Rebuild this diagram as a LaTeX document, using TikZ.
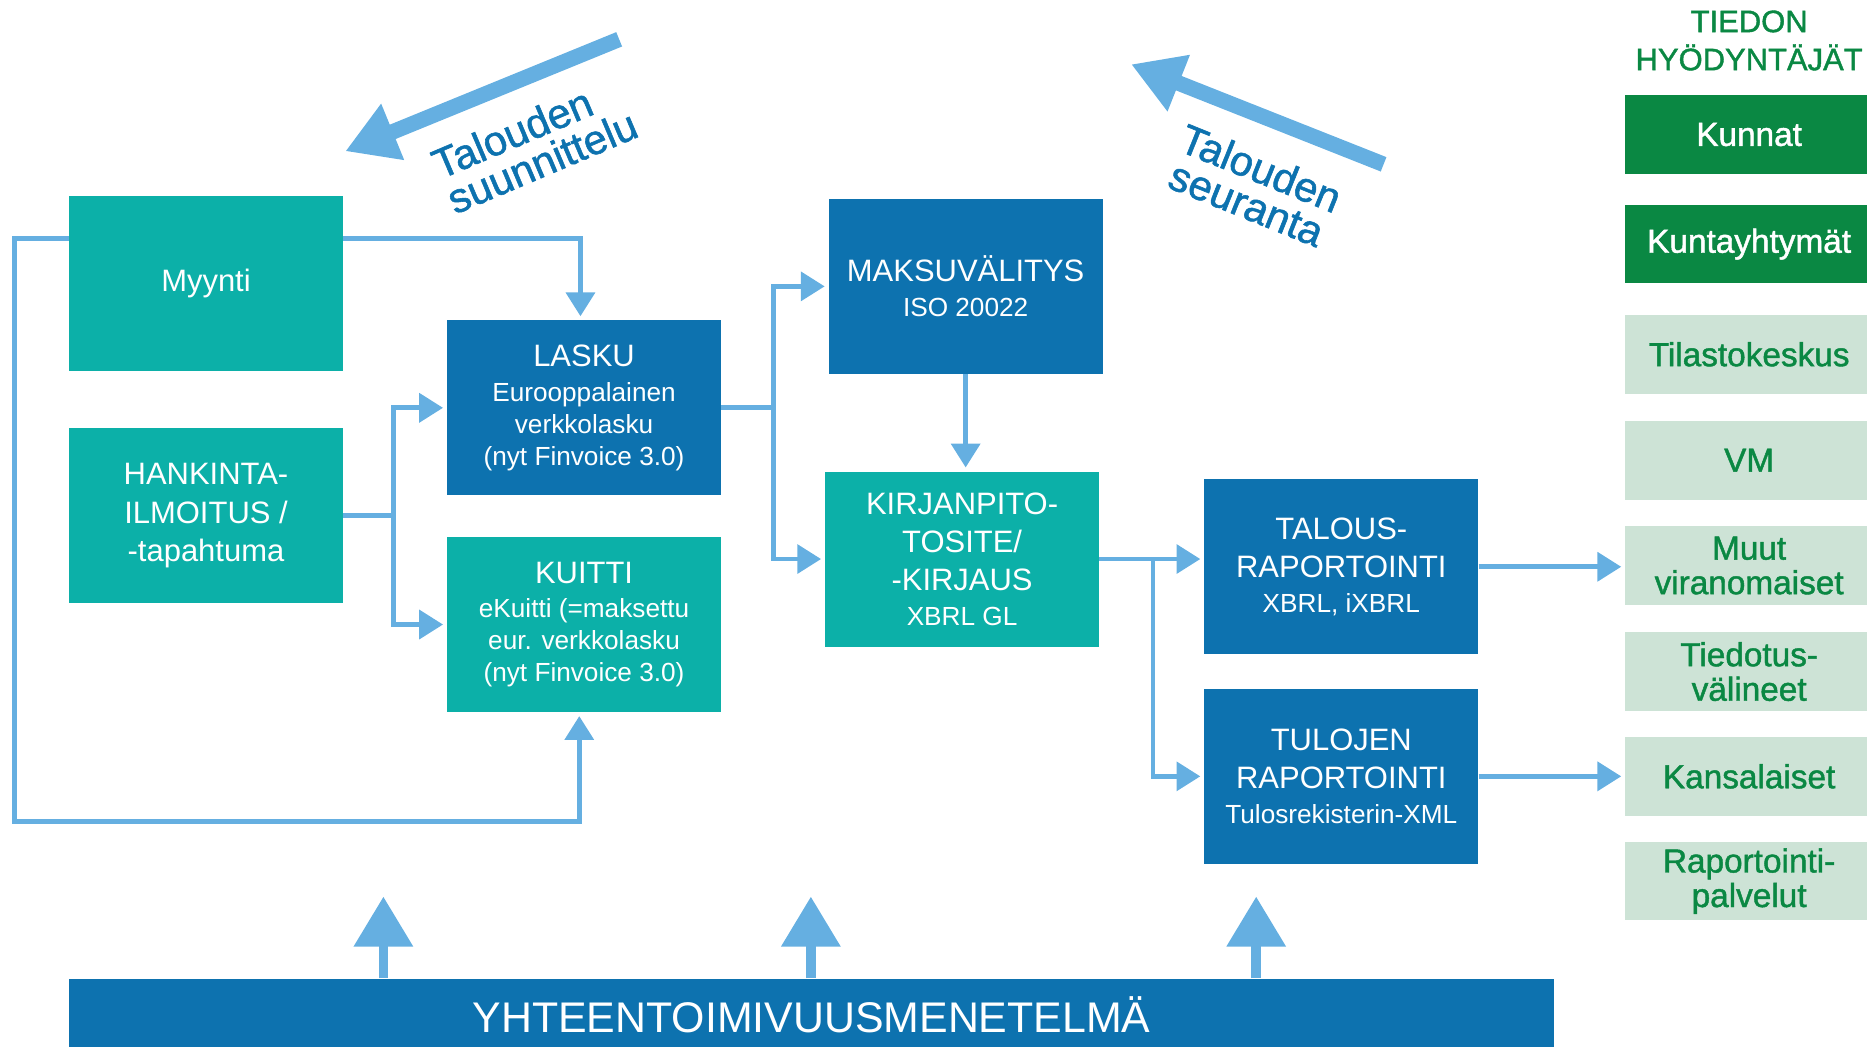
\documentclass[tikz,border=0pt]{standalone}
\usepackage{fontspec}
\setmainfont{Liberation Sans}
\newfontfamily\medfont{Liberation Sans}[RawFeature={embolden=1.3}]
\usetikzlibrary{arrows.meta,calc}

\definecolor{kteal}{HTML}{0CB0A8}
\definecolor{kblue}{HTML}{0D72AF}
\definecolor{klight}{HTML}{65AFE1}
\definecolor{kgreen}{HTML}{0A8843}
\definecolor{kpale}{HTML}{CDE3D6}

\newcommand{\bigf}{\fontsize{13}{16}\selectfont}

\begin{document}
\begin{tikzpicture}[x=0.5pt,y=-0.5pt,
    box/.style={minimum width=115pt,minimum height=73.5pt,inner sep=0pt,
      align=center,text=white,font=\fontsize{11}{13.5}\selectfont},
    tealbox/.style={box,fill=kteal},
    bluebox/.style={box,fill=kblue},
    user/.style={minimum width=104pt,minimum height=33pt,inner sep=0pt,
      align=center,font=\medfont\fontsize{14}{14.5}\selectfont},
    userdark/.style={user,fill=kgreen,text=white},
    userpale/.style={user,fill=kpale,text=kgreen},
    conn/.style={draw=klight,line width=2pt,
      -{Triangle[length=10pt,width=12pt]},shorten >=1.5pt},
    bigup/.style={draw=klight,line width=4pt,-{Triangle[length=21pt,width=24pt]}},
    bigdiag/.style={draw=klight,line width=6.5pt,-{Triangle[length=21.5pt,width=24pt]}},
    diagtext/.style={text=kblue,font=\medfont\fontsize{17.5}{16}\selectfont}]

    \useasboundingbox (0,0) rectangle (1568,879);

    % left side
    \node[tealbox,font=\bigf] (myynti) at (173,238) {Myynti};
    \node[tealbox,font=\bigf] (hankinta) at (173,433)
      {HANKINTA-\\ILMOITUS /\\-tapahtuma};

    \node[bluebox] (lasku) at (490.5,342.5)
      {{\bigf LASKU}\\[1pt]Eurooppalainen\\verkkolasku\\(nyt Finvoice 3.0)};
    \node[tealbox] (kuitti) at (490.5,524.5)
      {{\bigf KUITTI}\\[1pt]eKuitti (=maksettu\\eur. verkkolasku\\(nyt Finvoice 3.0)};

    \node[bluebox] (maksu) at (811,240.5)
      {{\bigf MAKSUVÄLITYS}\\[1pt]ISO 20022};
    \node[tealbox] (kirjanpito) at (808,469.5)
      {{\bigf KIRJANPITO-}\\[2.5pt]{\bigf TOSITE/}\\[2.5pt]{\bigf -KIRJAUS}\\[1pt]XBRL GL};

    \node[bluebox] (talous) at (1126.5,476)
      {{\bigf TALOUS-}\\[2.5pt]{\bigf RAPORTOINTI}\\[1pt]XBRL, iXBRL};
    \node[bluebox] (tulojen) at (1126.5,652)
      {{\bigf TULOJEN}\\[2.5pt]{\bigf RAPORTOINTI}\\[1pt]Tulosrekisterin-XML};

    \node[bluebox,minimum width=623.5pt,minimum height=30pt,
      font=\fontsize{18}{20}\selectfont] (yhteen) at (681.5,852)
      {YHTEENTOIMIVUUSMENETELMÄ};

    % tiedon hyodyntajat
    \node[text=kgreen,align=center,font=\medfont\bigf] (header) at (1469,34)
      {TIEDON\\HYÖDYNTÄJÄT};
    \node[userdark] (kunnat) at (1469,113) {Kunnat};
    \node[userdark] (kuntay) at (1469,205) {Kuntayhtymät};
    \node[userpale] (tilasto) at (1469,297.5) {Tilastokeskus};
    \node[userpale] (vm) at (1469,386.5) {VM};
    \node[userpale] (muut) at (1469,475) {Muut\\viranomaiset};
    \node[userpale] (tiedotus) at (1469,564) {Tiedotus-\\välineet};
    \node[userpale] (kansalaiset) at (1469,652) {Kansalaiset};
    \node[userpale] (raportointi) at (1469,740) {Raportointi-\\palvelut};

    % connectors
    \coordinate (loopcorner) at (12,690);
    \draw[conn] ($(myynti.east)+(0,-38)$) -| ($(lasku.north)+(-3,0)$);
    \draw[conn] ($(myynti.west)+(0,-38)$) -| (loopcorner) -| ($(kuitti.south)+(-4,0)$);

    \draw[conn] (hankinta.east) -- ++(42,0) |- (lasku.west);
    \draw[conn] (hankinta.east) -- ++(42,0) |- (kuitti.west);

    \draw[conn] (lasku.east) -- ++(44,0) |- (maksu.west);
    \draw[conn] (lasku.east) -- ++(44,0) |- (kirjanpito.west);

    \draw[conn] (maksu.south) -- (maksu.south |- kirjanpito.north);

    \draw[conn] (kirjanpito.east) -- (kirjanpito.east -| talous.west);
    \draw[conn] (kirjanpito.east) -- ++(45,0) |- (tulojen.west);

    \draw[conn] (talous.east) -- (talous.east -| muut.west);
    \draw[conn] (tulojen.east) -- (kansalaiset.west);

    \foreach \x in {322,681,1055}
      \draw[bigup] (yhteen.north -| \x,0) -- (\x,753);

    % talouden suunnittelu / seuranta
    \coordinate (suunA) at (520,33);
    \coordinate (suunB) at (290,127);
    \draw[bigdiag] (suunA) -- (suunB);
    \node[diagtext,rotate=23,align=left] (suuntxt) at (449,121)
      {Talouden\\suunnittelu};

    \coordinate (seurA) at (1162,138);
    \coordinate (seurB) at (950,54);
    \draw[bigdiag] (seurA) -- (seurB);
    \node[diagtext,rotate=-22,align=center] (seurtxt) at (1053,156)
      {Talouden\\seuranta};

\end{tikzpicture}
\end{document}
